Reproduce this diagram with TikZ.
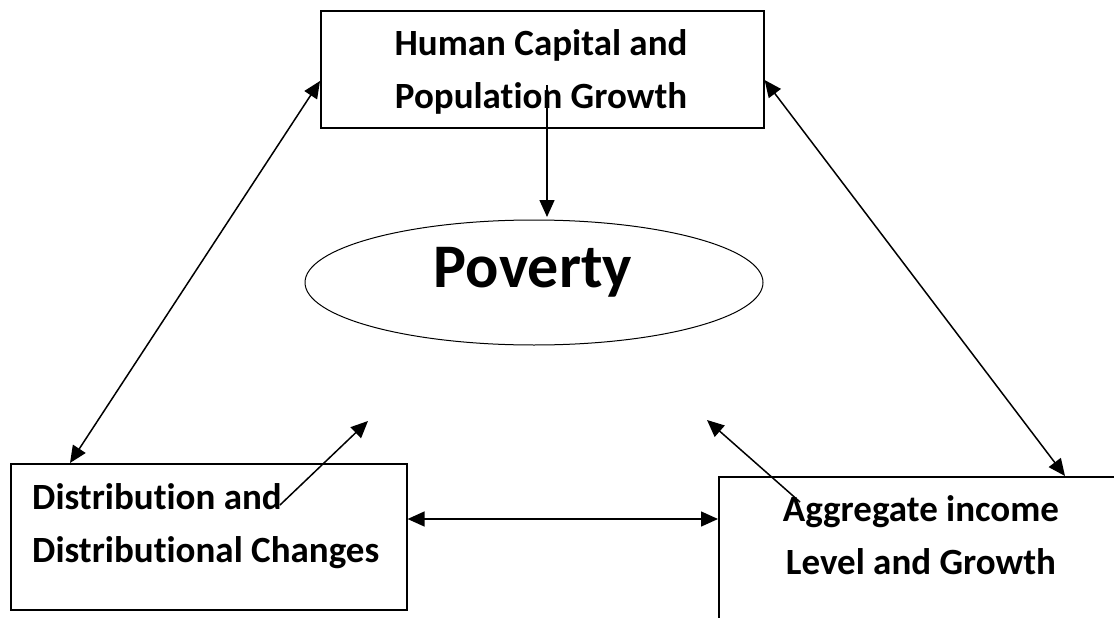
\documentclass[tikz,border=0pt]{standalone}
\usepackage{fontspec}
\setmainfont{Carlito}[Ligatures=NoCommon]
\usetikzlibrary{arrows.meta,shapes.geometric}

\begin{document}
\begin{tikzpicture}[x=1pt,y=-1pt,
    box/.style={draw, line width=1.6pt, inner sep=0pt},
    boxtext/.style={font=\fontsize{37}{53}\selectfont\bfseries, inner sep=0pt},
    link/.style={line width=1.5pt, -{Triangle[length=17pt,width=15pt]}},
    twoway/.style={line width=1.5pt, {Triangle[length=17pt,width=15pt]}-{Triangle[length=17pt,width=15pt]}}]
        \useasboundingbox (0,0) rectangle (1114,618);
        \clip (0,0) rectangle (1114,618);

        % boxes
        \node[box, anchor=north west, minimum width=443pt, minimum height=117pt] (hcap) at (320,10) {};
        \node[box, anchor=north west, minimum width=396pt, minimum height=146pt] (dist) at (10,463) {};
        \node[box, anchor=north west, minimum width=500pt, minimum height=220pt] (income) at (718,476) {};

        % box texts (base = last line)
        \node[boxtext, align=center, anchor=base] (hcaptxt) at (541,108) {Human Capital and\\Population Growth};
        \node[boxtext, align=left, anchor=base west] (disttxt) at (32,562) {Distribution and\\Distributional Changes};
        \node[boxtext, align=center, anchor=base] (incometxt) at (921,574) {Aggregate income\\Level and Growth};

        % poverty
        \node[draw, ellipse, line width=1pt, minimum width=458pt, minimum height=125pt] (poverty) at (534,282.5) {};
        \node[font=\fontsize{62}{70}\selectfont\bfseries, anchor=base, inner sep=0pt] (povertytxt) at (533,287) {Poverty};

        % arrow ends
        \coordinate (HS) at (547,85);
        \coordinate (HE) at (547,217);
        \coordinate (DS) at (280,505);
        \coordinate (DE) at (368,421);
        \coordinate (IS) at (800,502);
        \coordinate (IE) at (707,420);

        % arrows into poverty
        \draw[link] (HS) -- (HE);
        \draw[link] (DS) -- (DE);
        \draw[link] (IS) -- (IE);

        % two way arrows between boxes
        \draw[twoway] (hcap.west |- 0,81) -- (70,463);
        \draw[twoway] (hcap.east |- 0,80) -- (1065,476);
        \draw[twoway] (dist.east |- 0,519) -- (income.west |- 0,519);
\end{tikzpicture}
\end{document}
